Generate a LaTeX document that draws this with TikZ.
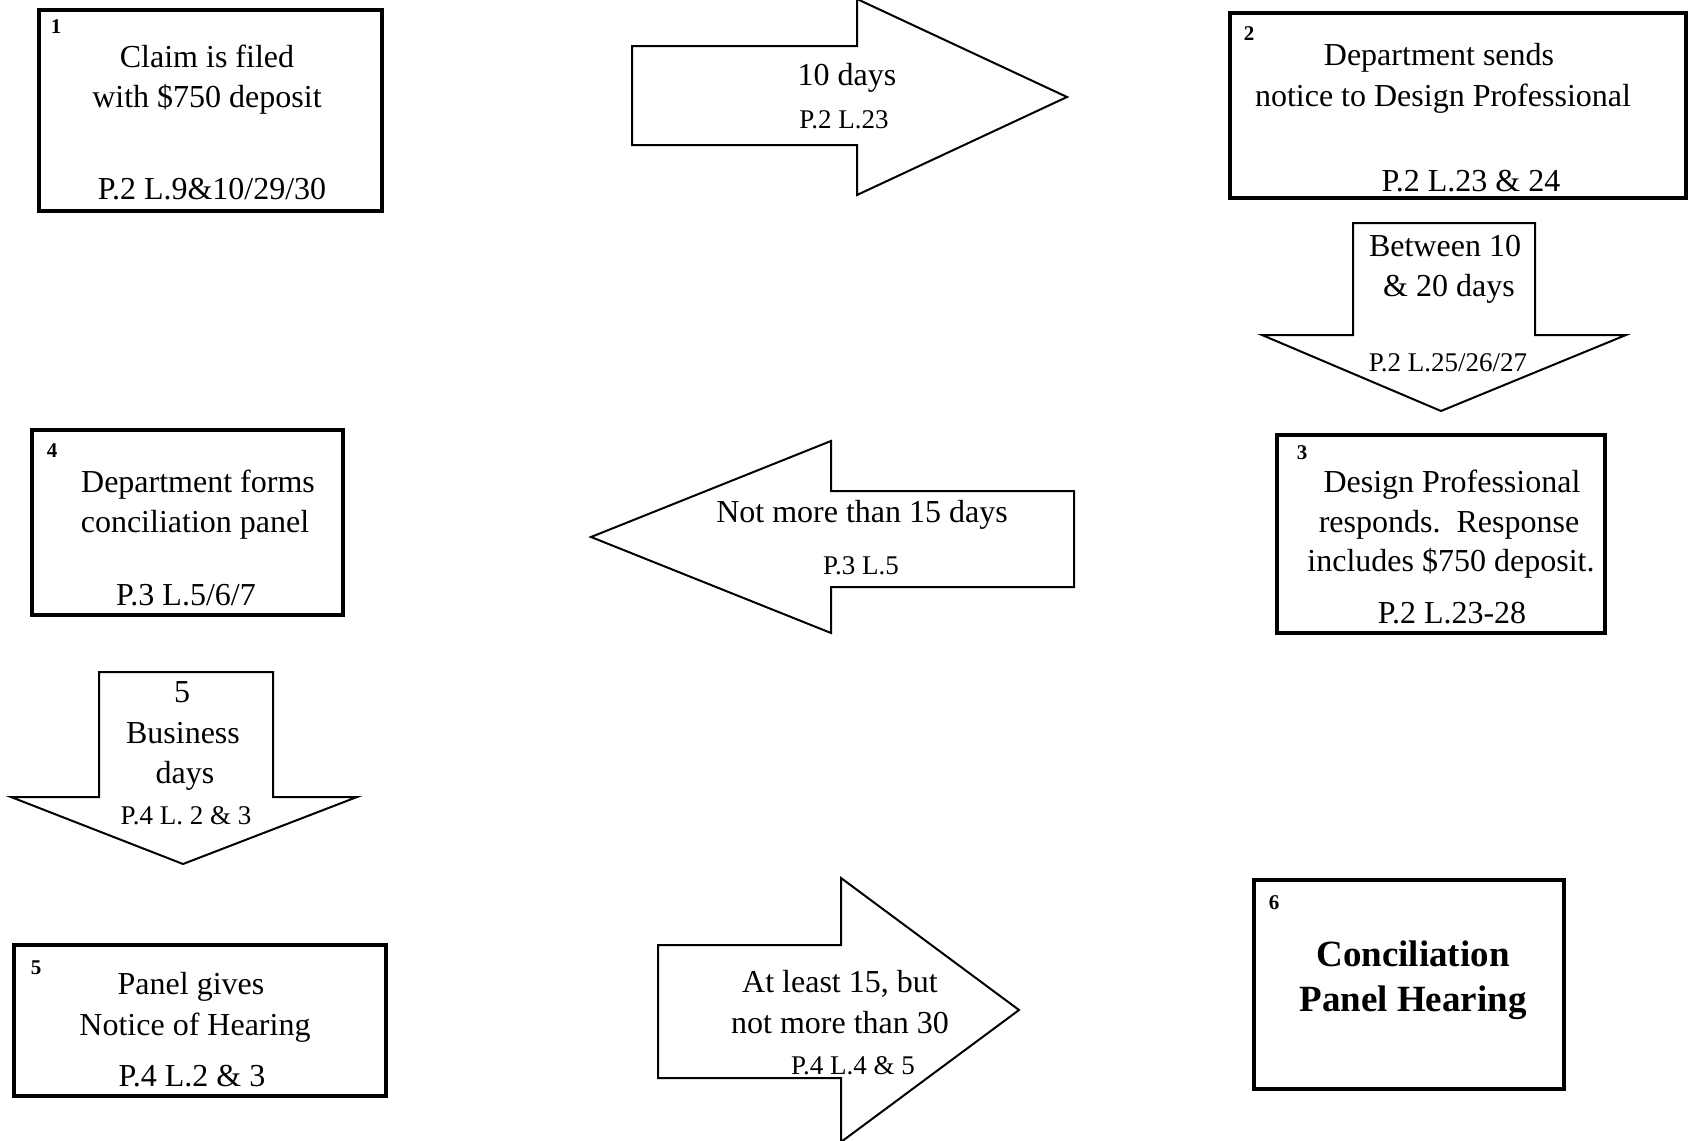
\documentclass[tikz,border=0pt]{standalone}
\usepackage{fontspec}
\setmainfont{Liberation Serif}
\begin{document}
\begin{tikzpicture}[x=0.5pt,y=-0.5pt]
\tikzset{
 boxline/.style={draw, line width=1.8pt, fill=white, inner sep=0pt},
 arrline/.style={draw, line width=1pt, line join=miter, fill=white},
 big/.style={anchor=base, inner sep=0pt, font=\fontsize{16}{19}\selectfont, yshift=-5.5pt},
 refr/.style={anchor=base, inner sep=0pt, font=\fontsize{13.5}{16}\selectfont, yshift=-4.5pt},
 num/.style={anchor=base, inner sep=0pt, font=\bfseries\fontsize{10.5}{12}\selectfont, yshift=-3.5pt},
 headt/.style={anchor=base, inner sep=0pt, font=\bfseries\fontsize{18.5}{22}\selectfont, yshift=-6pt}
}
\fill[white] (0,0) rectangle (1688,1141);
\useasboundingbox (0,0) rectangle (1688,1141);

% boxes
\node[boxline, minimum width=171.5pt, minimum height=100.5pt] (b1) at (210.5,110.5) {};
\node[boxline, minimum width=228pt, minimum height=92.5pt] (b2) at (1458,105.5) {};
\node[boxline, minimum width=164pt, minimum height=99pt] (b3) at (1441,534) {};
\node[boxline, minimum width=155.5pt, minimum height=92.5pt] (b4) at (187.5,522.5) {};
\node[boxline, minimum width=186pt, minimum height=75.5pt] (b5) at (200,1020.5) {};
\node[boxline, line width=2.2pt, minimum width=155pt, minimum height=104.5pt] (b6) at (1409,984.5) {};

% box 1
\node[num] (n1) at (56,26) {1};
\node[big] (t1a) at (207,56) {Claim is filed};
\node[big] (t1b) at (207,96) {with \$750 deposit};
\node[big] (t1c) at (212,188) {P.2 L.9\&10/29/30};

% box 2
\node[num] (n2) at (1249,33) {2};
\node[big] (t2a) at (1439,54) {Department sends};
\node[big] (t2b) at (1443,95) {notice to Design Professional};
\node[big] (t2c) at (1471,180) {P.2 L.23 \& 24};

% box 3
\node[num] (n3) at (1302,452) {3};
\node[big] (t3a) at (1452,481) {Design Professional};
\node[big] (t3b) at (1449,521) {responds.\ \ Response};
\node[big] (t3c) at (1451,560) {includes \$750 deposit.};
\node[big] (t3d) at (1452,612) {P.2 L.23-28};

% box 4
\node[num] (n4) at (52,450) {4};
\node[big] (t4a) at (198,481) {Department forms};
\node[big] (t4b) at (195,521) {conciliation panel};
\node[big] (t4c) at (186,594) {P.3 L.5/6/7};

% box 5
\node[num] (n5) at (36,967) {5};
\node[big] (t5a) at (191,983) {Panel gives};
\node[big] (t5b) at (195,1024) {Notice of Hearing};
\node[big] (t5c) at (192,1075) {P.4 L.2 \& 3};

% box 6
\node[num] (n6) at (1274,902) {6};
\node[headt] (t6a) at (1413,954) {Conciliation};
\node[headt] (t6b) at (1413,999) {Panel Hearing};

% arrow 1 (right)
\draw[arrline] (632,46) -- (857,46) -- (857,-1) -- (1067,97) -- (857,195) -- (857,145) -- (632,145) -- cycle;
\node[big] (a1a) at (847,74) {10 days};
\node[refr] (a1b) at (844,119) {P.2 L.23};

% arrow 2 (down)
\draw[arrline] (1353,223) -- (1535,223) -- (1535,335) -- (1626,335) -- (1441,411) -- (1262,335) -- (1353,335) -- cycle;
\node[big] (a2a) at (1445,245) {Between 10};
\node[big] (a2b) at (1449,285) {\& 20 days};
\node[refr] (a2c) at (1448,362) {P.2 L.25/26/27};

% arrow 3 (left)
\draw[arrline] (1074,491) -- (831,491) -- (831,441) -- (591,537) -- (831,633) -- (831,587) -- (1074,587) -- cycle;
\node[big] (a3a) at (862,511) {Not more than 15 days};
\node[refr] (a3b) at (861,565) {P.3 L.5};

% arrow 4 (down)
\draw[arrline] (99,672) -- (273,672) -- (273,797) -- (357,797) -- (183,864) -- (11,797) -- (99,797) -- cycle;
\node[big] (a4a) at (182,691) {5};
\node[big] (a4b) at (183,732) {Business};
\node[big] (a4c) at (185,772) {days};
\node[refr] (a4d) at (186,815) {P.4 L. 2 \& 3};

% arrow 5 (right)
\draw[arrline] (658,945) -- (841,945) -- (841,878) -- (1019,1010) -- (841,1142) -- (841,1078) -- (658,1078) -- cycle;
\node[big] (a5a) at (840,981) {At least 15, but};
\node[big] (a5b) at (840,1022) {not more than 30};
\node[refr] (a5c) at (853,1065) {P.4 L.4 \& 5};
\end{tikzpicture}
\end{document}
